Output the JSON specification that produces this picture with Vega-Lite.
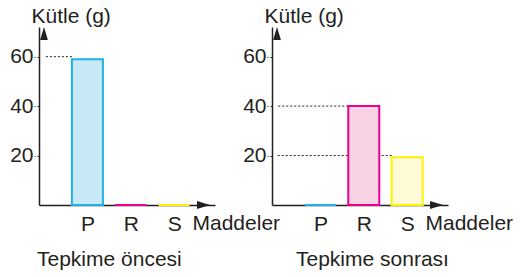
{
  "$schema": "https://vega.github.io/schema/vega-lite/v6.json",
  "background": "white",
  "padding": {"left": 9, "top": 5, "right": 0, "bottom": 0},
  "bounds": "flush",
  "spacing": 57,
  "datasets": {
    "once": [
      {"madde": "P", "sira": 1, "kutle": 59},
      {"madde": "R", "sira": 2, "kutle": 0},
      {"madde": "S", "sira": 3, "kutle": 0}
    ],
    "sonra": [
      {"madde": "P", "sira": 1, "kutle": 0},
      {"madde": "R", "sira": 2, "kutle": 40},
      {"madde": "S", "sira": 3, "kutle": 19.3}
    ],
    "once_ref": [{"deger": 60, "sira": 1}],
    "sonra_ref": [{"deger": 40, "sira": 2}, {"deger": 20, "sira": 3}],
    "ok": [{"ad": "ok"}]
  },
  "config": {
    "view": {"stroke": null},
    "font": "Liberation Sans",
    "axis": {
      "labelFont": "Liberation Sans",
      "labelFontSize": 21,
      "labelColor": "#231f20",
      "titleFont": "Liberation Sans",
      "titleFontSize": 21,
      "titleFontWeight": "normal",
      "titleColor": "#231f20",
      "domainColor": "#231f20",
      "domainWidth": 1.5,
      "grid": false
    }
  },
  "hconcat": [
    {
      "width": 176,
      "height": 178,
      "title": {"text": "Tepkime öncesi", "orient": "bottom", "anchor": "start", "frame": "group", "dx": -2, "offset": 15, "fontSize": 21, "fontWeight": "normal", "font": "Liberation Sans", "color": "#231f20"},
      "layer": [
        {
          "data": {"name": "once_ref"},
          "mark": {"type": "rule", "strokeDash": [2, 2], "color": "#231f20", "strokeWidth": 1, "xOffset": -15.5},
          "encoding": {
            "x": {"field": "sira", "type": "quantitative", "scale": {"domain": [0, 3.826], "nice": false, "zero": true}, "title": "Maddeler",
              "axis": {"values": [1, 2, 3], "labelExpr": "datum.value == 1 ? 'P' : datum.value == 2 ? 'R' : 'S'", "titleAlign": "left", "titleAnchor": "start", "titleBaseline": "alphabetic", "titleX": 153, "titleY": 24, "ticks": false, "labelPadding": 8, "labelFlush": false}},
            "x2": {"datum": 0},
            "y": {"field": "deger", "type": "quantitative", "scale": {"domain": [0, 72], "nice": false}, "title": "Kütle (g)",
              "axis": {"values": [20, 40, 60], "titleAngle": 0, "titleAlign": "left", "titleAnchor": "end", "titleBaseline": "alphabetic", "titleX": -8, "titleY": -5, "tickSize": 5, "tickDash": [2, 2], "tickColor": "#231f20", "labelPadding": 1}}
          }
        },
        {
          "data": {"name": "once"},
          "mark": {"type": "bar", "size": 31, "strokeWidth": 2},
          "encoding": {
            "x": {"field": "sira", "type": "quantitative", "title": "Maddeler"},
            "y": {"field": "kutle", "type": "quantitative", "title": "Kütle (g)"},
            "fill": {"field": "madde", "type": "nominal", "scale": {"domain": ["P", "R", "S"], "range": ["#c8e8f8", "#f9d3e4", "#fffbd6"]}, "legend": null},
            "stroke": {"field": "madde", "type": "nominal", "scale": {"domain": ["P", "R", "S"], "range": ["#1fb0e8", "#ec008c", "#fff200"]}, "legend": null}
          }
        },
        {
          "data": {"name": "ok"},
          "mark": {"type": "point", "shape": "M0,0L0.3,1L-0.3,1Z", "size": 676, "filled": true, "color": "#231f20", "opacity": 1},
          "encoding": {"x": {"datum": 0, "type": "quantitative", "title": "Maddeler"}, "y": {"datum": 72, "type": "quantitative", "title": "Kütle (g)"}}
        },
        {
          "data": {"name": "ok"},
          "mark": {"type": "point", "shape": "M0,0L-1,-0.3L-1,0.3Z", "size": 676, "filled": true, "color": "#231f20", "opacity": 1},
          "encoding": {"x": {"datum": 3.826, "type": "quantitative", "title": "Maddeler"}, "y": {"datum": 0, "type": "quantitative", "title": "Kütle (g)"}}
        }
      ]
    },
    {
      "width": 176,
      "height": 178,
      "title": {"text": "Tepkime sonrası", "orient": "bottom", "anchor": "start", "frame": "group", "dx": 24, "offset": 15, "fontSize": 21, "fontWeight": "normal", "font": "Liberation Sans", "color": "#231f20"},
      "layer": [
        {
          "data": {"name": "sonra_ref"},
          "mark": {"type": "rule", "strokeDash": [2, 2], "color": "#231f20", "strokeWidth": 1, "xOffset": -15.5},
          "encoding": {
            "x": {"field": "sira", "type": "quantitative", "scale": {"domain": [0, 3.826], "nice": false, "zero": true}, "title": "Maddeler",
              "axis": {"values": [1, 2, 3], "labelExpr": "datum.value == 1 ? 'P' : datum.value == 2 ? 'R' : 'S'", "titleAlign": "left", "titleAnchor": "start", "titleBaseline": "alphabetic", "titleX": 153, "titleY": 24, "ticks": false, "labelPadding": 8, "labelFlush": false}},
            "x2": {"datum": 0},
            "y": {"field": "deger", "type": "quantitative", "scale": {"domain": [0, 72], "nice": false}, "title": "Kütle (g)",
              "axis": {"values": [20, 40, 60], "titleAngle": 0, "titleAlign": "left", "titleAnchor": "end", "titleBaseline": "alphabetic", "titleX": -8, "titleY": -5, "tickSize": 5, "tickDash": [2, 2], "tickColor": "#231f20", "labelPadding": 1}}
          }
        },
        {
          "data": {"name": "sonra"},
          "mark": {"type": "bar", "size": 31, "strokeWidth": 2},
          "encoding": {
            "x": {"field": "sira", "type": "quantitative", "title": "Maddeler"},
            "y": {"field": "kutle", "type": "quantitative", "title": "Kütle (g)"},
            "fill": {"field": "madde", "type": "nominal", "scale": {"domain": ["P", "R", "S"], "range": ["#c8e8f8", "#f9d3e4", "#fffbd6"]}, "legend": null},
            "stroke": {"field": "madde", "type": "nominal", "scale": {"domain": ["P", "R", "S"], "range": ["#1fb0e8", "#ec008c", "#fff200"]}, "legend": null}
          }
        },
        {
          "data": {"name": "ok"},
          "mark": {"type": "point", "shape": "M0,0L0.3,1L-0.3,1Z", "size": 676, "filled": true, "color": "#231f20", "opacity": 1},
          "encoding": {"x": {"datum": 0, "type": "quantitative", "title": "Maddeler"}, "y": {"datum": 72, "type": "quantitative", "title": "Kütle (g)"}}
        },
        {
          "data": {"name": "ok"},
          "mark": {"type": "point", "shape": "M0,0L-1,-0.3L-1,0.3Z", "size": 676, "filled": true, "color": "#231f20", "opacity": 1},
          "encoding": {"x": {"datum": 3.826, "type": "quantitative", "title": "Maddeler"}, "y": {"datum": 0, "type": "quantitative", "title": "Kütle (g)"}}
        }
      ]
    }
  ]
}
